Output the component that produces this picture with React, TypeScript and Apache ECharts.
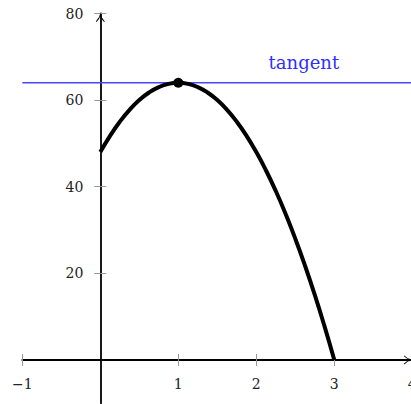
import React, { useEffect, useRef } from "react";
import * as echarts from "echarts";

const curveX = [0, 0.125, 0.25, 0.375, 0.5, 0.625, 0.75, 0.875, 1, 1.125, 1.25, 1.375, 1.5, 1.625, 1.75, 1.875, 2, 2.125, 2.25, 2.375, 2.5, 2.625, 2.75, 2.875, 3];
const curveY = [48, 51.75, 55, 57.75, 60, 61.75, 63, 63.75, 64, 63.75, 63, 61.75, 60, 57.75, 55, 51.75, 48, 43.75, 39, 33.75, 28, 21.75, 15, 7.75, 0];
const pointX = [1];
const pointY = [64];
const tangentX = [-1, 4];
const tangentY = [64, 64];
const xTickValues = [-1, 1, 2, 3, 4];
const yTickValues = [20, 40, 60, 80];
const tangentLabel = "tangent";
const labelPos = [2.61, 68.7];

const FONT = "DejaVu Serif";
const X_MIN = -1;
const X_MAX = 4;
const Y_MIN = -10;
const Y_MAX = 80;

export default function App() {
  const ref = useRef<HTMLDivElement>(null);
  useEffect(() => {
    document.body.style.margin = "0";
    if (!ref.current) return;
    const chart = echarts.init(ref.current, undefined, { renderer: "svg" });
    const W = 411;
    const H = 404;
    const grid = { left: 22.3, right: -1.3, top: 13.5, bottom: 0.75 };
    const gw = W - grid.left - grid.right;
    const gh = H - grid.top - grid.bottom;
    const yAxisOffset = -((0 - X_MIN) / (X_MAX - X_MIN)) * gw;
    const xAxisOffset = -((0 - Y_MIN) / (Y_MAX - Y_MIN)) * gh;
    const arrowPath =
      "path://M5,0 Q5.6,5 10,9.4 L9.3,10 Q6,7.2 5,3.2 Q4,7.2 0.7,10 L0,9.4 Q4.4,5 5,0 Z";
    const minus = (v: number) => String(v).replace("-", "\u2212");
    const tickStyle = { color: "#999", width: 1 };
    const baseX = {
      type: "value",
      min: X_MIN,
      max: X_MAX,
      position: "bottom",
      offset: xAxisOffset,
      splitLine: { show: false },
    };
    const baseY = {
      type: "value",
      min: Y_MIN,
      max: Y_MAX,
      position: "left",
      offset: yAxisOffset,
      splitLine: { show: false },
    };
    chart.setOption({
      animation: false,
      grid: { ...grid, containLabel: false, outerBoundsMode: "none" },
      xAxis: [
        {
          ...baseX,
          axisLine: {
            onZero: false,
            lineStyle: { color: "#000", width: 1.8 },
            symbol: ["none", arrowPath],
            symbolSize: [10, 9],
            symbolOffset: [0, -4],
          },
          axisTick: { show: true, customValues: xTickValues, length: 6, lineStyle: tickStyle },
          axisLabel: {
            show: true,
            customValues: xTickValues,
            margin: 17,
            fontFamily: FONT,
            fontSize: 14,
            color: "#222",
            formatter: (v: number) => minus(v),
          },
        },
        {
          ...baseX,
          axisLine: { show: false, onZero: false },
          axisTick: { show: true, inside: true, customValues: xTickValues, length: 6, lineStyle: tickStyle },
          axisLabel: { show: false },
        },
      ],
      yAxis: [
        {
          ...baseY,
          axisLine: {
            onZero: false,
            lineStyle: { color: "#000", width: 1.8 },
            symbol: ["none", arrowPath],
            symbolSize: [10, 9],
            symbolOffset: [0, -4],
          },
          axisTick: { show: true, customValues: yTickValues, length: 6, lineStyle: tickStyle },
          axisLabel: {
            show: true,
            customValues: yTickValues,
            margin: 17,
            fontFamily: FONT,
            fontSize: 14,
            color: "#222",
          },
        },
        {
          ...baseY,
          axisLine: { show: false, onZero: false },
          axisTick: { show: true, inside: true, customValues: yTickValues, length: 6, lineStyle: tickStyle },
          axisLabel: { show: false },
        },
      ],
      series: [
        {
          type: "line",
          data: tangentX.map((x, i) => [x, tangentY[i]]),
          symbol: "none",
          clip: false,
          lineStyle: { color: "#4646ff", width: 1.4 },
          z: 2,
        },
        {
          type: "line",
          data: curveX.map((x, i) => [x, curveY[i]]),
          symbol: "none",
          smooth: true,
          lineStyle: { color: "#000", width: 4 },
          z: 3,
        },
        {
          type: "scatter",
          data: pointX.map((x, i) => [x, pointY[i]]),
          symbol: "circle",
          symbolSize: 10,
          itemStyle: { color: "#000", opacity: 1 },
          z: 4,
        },
      ],
    });
    const p = chart.convertToPixel({ xAxisIndex: 0, yAxisIndex: 0 }, labelPos);
    chart.setOption({
      graphic: [
        {
          type: "text",
          x: p[0],
          y: p[1],
          style: {
            text: tangentLabel,
            fill: "#2f2fff",
            font: `18px "${FONT}"`,
            align: "center",
            verticalAlign: "middle",
          },
        },
      ],
    });
    return () => chart.dispose();
  }, []);
  return <div ref={ref} style={{ width: 411, height: 404 }} />;
}
